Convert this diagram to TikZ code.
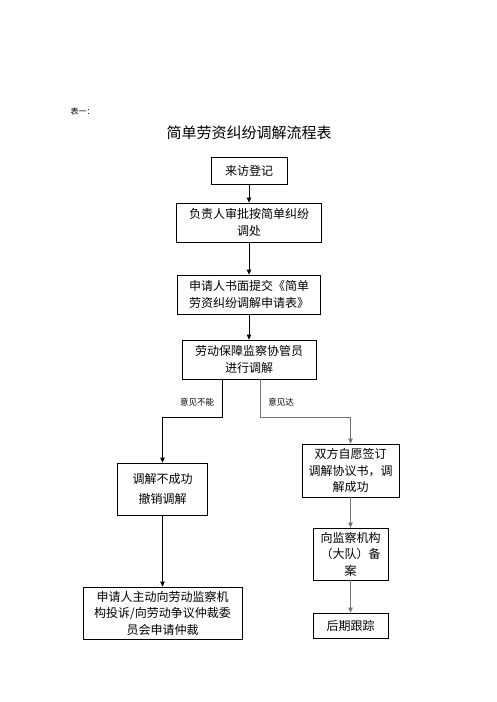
\documentclass[tikz,border=0pt]{standalone}
\usepackage{fontspec}
\setmainfont{Noto Sans CJK SC}
\usetikzlibrary{arrows.meta}
\tikzset{
  box/.style={draw,line width=0.8pt,align=center,inner sep=1pt,font=\fontsize{12}{16.5}\selectfont},
  flow/.style={line width=0.8pt,-{Triangle[length=5pt,width=4.5pt]}},
  grayflow/.style={flow,draw=black!55,color=black!55}
}
\begin{document}
\begin{tikzpicture}[x=1pt,y=-1pt]
      \useasboundingbox (0,0) rectangle (496,702);
      \draw
        (67,111) node[anchor=west,font=\fontsize{8}{10}\selectfont] (tag){表一：}
        (249,133) node[font=\fontsize{15}{18}\selectfont] (title){简单劳资纠纷调解流程表}
        (249,170.5) node[box,minimum width=76pt,minimum height=27pt] (visit){来访登记}
        (249,222.5) node[box,minimum width=145pt,minimum height=39pt] (approve){负责人审批按简单纠纷\\调处}
        (249,294.5) node[box,minimum width=143pt,minimum height=39pt] (submit){申请人书面提交《简单\\劳资纠纷调解申请表》}
        (249,359.5) node[box,minimum width=134pt,minimum height=39pt] (mediate){劳动保障监察协管员\\进行调解}
        (162.5,489) node[box,minimum width=90pt,minimum height=52pt,font=\fontsize{12}{20}\selectfont] (fail){调解不成功\\撤销调解}
        (350.5,470.5) node[box,minimum width=97pt,minimum height=53pt] (agree){双方自愿签订\\调解协议书，调\\解成功}
        (350.5,554) node[box,minimum width=75pt,minimum height=52pt] (record){向监察机构\\（大队）备\\案}
        (350.5,625.5) node[box,minimum width=75pt,minimum height=25pt] (track){后期跟踪}
        (162.5,613) node[box,minimum width=159pt,minimum height=52pt] (apply){申请人主动向劳动监察机\\构投诉/向劳动争议仲裁委\\员会申请仲裁}
        (197,402) node[font=\fontsize{8.5}{10}\selectfont] (nolabel){意见不能}
        (281,402) node[font=\fontsize{8.5}{10}\selectfont] (oklabel){意见达};
      \coordinate (lsplit) at (222.7,417);
      \coordinate (rsplit) at (260,417);
      \begin{scope}[flow]
        \draw (visit) to (approve);
        \draw (approve) to (submit);
        \draw (submit) to (mediate);
        \draw[-] (mediate.south -| lsplit) to (lsplit);
        \draw (lsplit) -| (fail);
        \draw (fail) to (apply);
      \end{scope}
      \begin{scope}[grayflow]
        \draw[-] (mediate.south -| rsplit) to (rsplit);
        \draw (rsplit) -| (agree);
        \draw (agree) to (record);
        \draw (record) to (track);
      \end{scope}
    \end{tikzpicture}
\end{document}
